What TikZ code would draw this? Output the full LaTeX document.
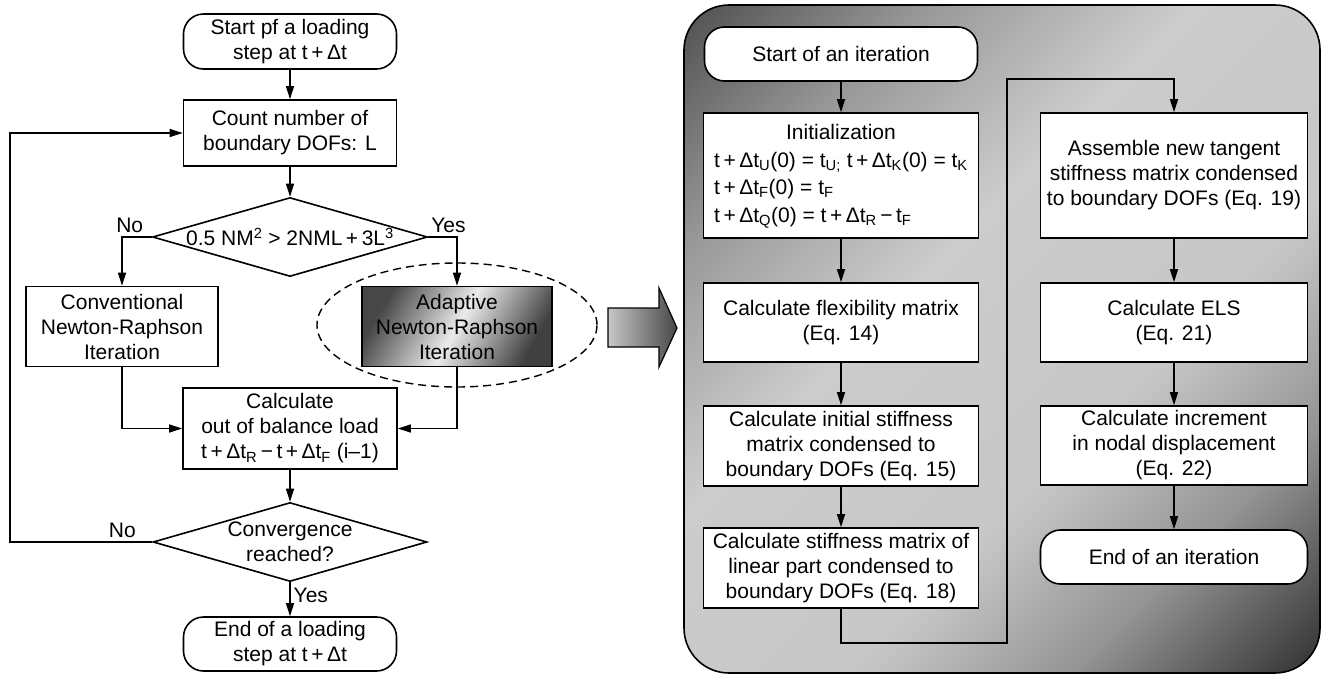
\documentclass[tikz,border=0pt]{standalone}
\usepackage{fontspec}
\setmainfont{Liberation Sans}
\usetikzlibrary{arrows.meta,shapes.geometric}
\renewcommand{\arraystretch}{1.1}
\pgfdeclareverticalshading{panelfade}{100bp}{color(0bp)=(black!85); color(15bp)=(black!80); color(28bp)=(black!42); color(40bp)=(black!22); color(58bp)=(black!20); color(72bp)=(black!40); color(85bp)=(black!68); color(100bp)=(black!70)}
\begin{document}
\begin{tikzpicture}[x=1pt, y=-1pt, font=\fontsize{21}{25}\selectfont,
  every node/.style={align=center},
  box/.style={draw, fill=white, line width=1.6pt, inner sep=0pt},
  term/.style={box, rounded corners=20pt},
  dec/.style={box, diamond, aspect=3.5, inner xsep=-12pt},
  flow/.style={line width=1.4pt, -{Triangle[length=13pt, width=8pt]}},
  fade/.style={shade, shading=panelfade, shading angle=45},
  glow/.style={left color=black!72, right color=black!75, middle color=black!8, shading angle=60}]
\useasboundingbox (0, 0) rectangle (1324, 677);

\node[term, minimum width=213, minimum height=55] (start) at (290, 41.5) {Start pf a loading\\step at t{\,}+{\,}Δt};
\node[box, minimum width=213, minimum height=66] (count) at (290, 133) {Count number of\\boundary DOFs: L};
\node[dec, minimum width=275, minimum height=79] (cond) at (290, 237) {0.5 NM\textsuperscript{2} > 2NML{\,}+{\,}3L\textsuperscript{3}};
\node[draw, ellipse, dash pattern=on 8pt off 5pt, line width=1.4pt, minimum width=280, minimum height=124] (focus) at (457, 325) {};
\node[box, minimum width=192, minimum height=80] (conv) at (122, 326.5) {Conventional\\Newton-Raphson\\Iteration};
\node[box, glow, minimum width=190, minimum height=80] (adapt) at (457, 326.5) {Adaptive\\Newton-Raphson\\Iteration};
\node[box, minimum width=214, minimum height=81] (calc) at (290, 428.5) {Calculate\\out of balance load\\t{\,}+{\,}Δt\textsubscript{R}{\,}−{\,}t{\,}+{\,}Δt\textsubscript{F} (i–1)};
\node[dec, minimum width=274, minimum height=79] (conv2) at (290, 542) {Convergence\\reached?};
\node[term, minimum width=213, minimum height=54] (stop) at (290, 644) {End of a loading\\step at t{\,}+{\,}Δt};
\coordinate (back) at (10, 542);

\draw[flow] (start) -- (count);
\draw[flow] (count) -- (cond);
\draw[flow] (cond.west) -| node[pos=0.37, above] {No} (conv.north);
\draw[flow] (cond.east) -| node[pos=0.35, above] {Yes} (adapt.north);
\draw[flow] (conv.south) |- (calc.west);
\draw[flow] (adapt.south) |- (calc.east);
\draw[flow] (calc) -- (conv2);
\draw[flow] (conv2.west) -- node[pos=0.21, above] {No} (back) |- (count.west);
\draw[flow] (conv2) -- node[pos=0.4, right, inner sep=3pt] {Yes} (stop);

\draw[line width=1.2pt, left color=black!22, right color=black!72] (608, 308) -- (659, 308) -- (659, 288) -- (677, 328) -- (659, 367) -- (659, 347) -- (608, 347) -- cycle;

\draw[line width=1.6pt, rounded corners=45pt, fade] (684, 5) rectangle (1320, 673);

\node[term, minimum width=273, minimum height=54] (istart) at (841, 54) {Start of an iteration};
\node[box, minimum width=275, minimum height=125] (init) at (841, 175.5) {\begin{tabular}{@{}l@{}}\multicolumn{1}{@{}c@{}}{Initialization}\\
t{\,}+{\,}Δt\textsubscript{U}(0) = t\textsubscript{U;} t{\,}+{\,}Δt\textsubscript{K}(0) = t\textsubscript{K}\\
t{\,}+{\,}Δt\textsubscript{F}(0) = t\textsubscript{F}\\
t{\,}+{\,}Δt\textsubscript{Q}(0) = t{\,}+{\,}Δt\textsubscript{R}{\,}−{\,}t\textsubscript{F}\end{tabular}};
\node[box, minimum width=275, minimum height=79] (flex) at (841, 322.5) {Calculate flexibility matrix\\(Eq. 14)};
\node[box, minimum width=275, minimum height=80] (stiff) at (841, 446) {Calculate initial stiffness\\matrix condensed to\\boundary DOFs (Eq. 15)};
\node[box, minimum width=275, minimum height=80] (lin) at (841, 568) {Calculate stiffness matrix of\\linear part condensed to\\boundary DOFs (Eq. 18)};
\node[box, minimum width=267, minimum height=125] (assem) at (1174, 175.5) {Assemble new tangent\\stiffness matrix condensed\\to boundary DOFs (Eq. 19)};
\node[box, minimum width=267, minimum height=79] (els) at (1174, 322.5) {Calculate ELS\\(Eq. 21)};
\node[box, minimum width=267, minimum height=79] (incr) at (1174, 445.5) {Calculate increment\\in nodal displacement\\(Eq. 22)};
\node[term, minimum width=267, minimum height=54] (istop) at (1174, 557) {End of an iteration};
\coordinate (low) at (1007, 643);
\coordinate (high) at (1007, 79);

\draw[flow] (istart) -- (init);
\draw[flow] (init) -- (flex);
\draw[flow] (flex) -- (stiff);
\draw[flow] (stiff) -- (lin);
\draw[flow] (lin.south) |- (low) -- (high) -| (assem.north);
\draw[flow] (assem) -- (els);
\draw[flow] (els) -- (incr);
\draw[flow] (incr) -- (istop);

\end{tikzpicture}
\end{document}
